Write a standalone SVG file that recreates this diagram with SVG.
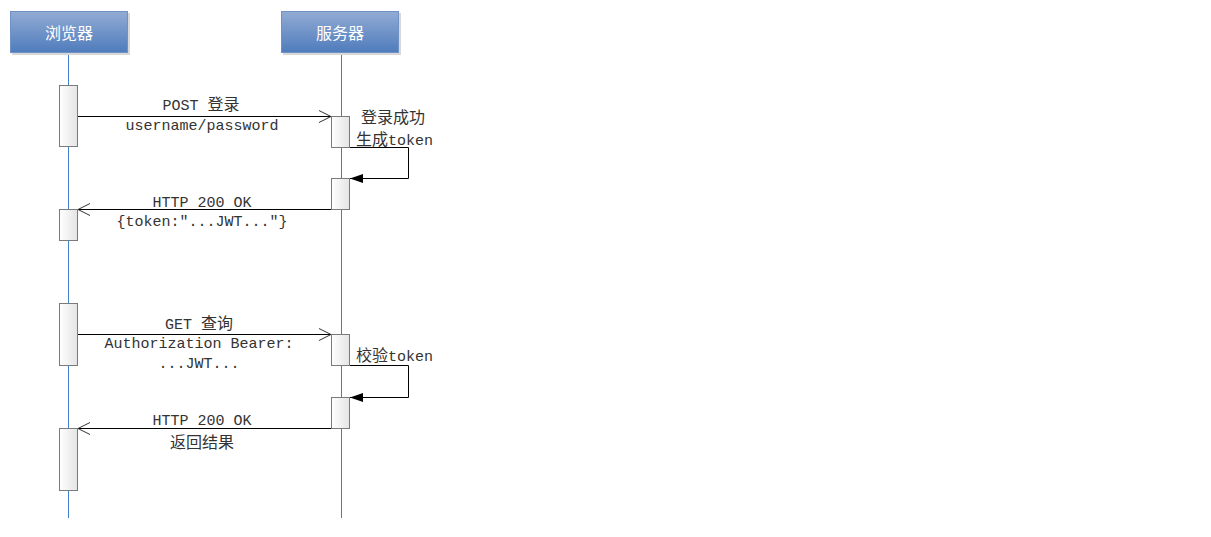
<svg xmlns="http://www.w3.org/2000/svg" width="1211" height="537" viewBox="0 0 1211 537">
<defs>
<linearGradient id="hdr" x1="0" y1="0" x2="0" y2="1">
<stop offset="0" stop-color="#92abd4"/>
<stop offset="1" stop-color="#4f7cbc"/>
</linearGradient>
<linearGradient id="act" x1="0" y1="0" x2="1" y2="0">
<stop offset="0" stop-color="#ffffff"/>
<stop offset="1" stop-color="#e4e4e4"/>
</linearGradient>
<marker id="open" markerWidth="14" markerHeight="14" refX="13" refY="7" orient="auto" markerUnits="userSpaceOnUse">
<path d="M1,1 L13,7 L1,13" fill="none" stroke="#333" stroke-width="1"/>
</marker>
<marker id="fill" markerWidth="14" markerHeight="10" refX="13" refY="5" orient="auto" markerUnits="userSpaceOnUse">
<path d="M0,0.5 L13,5 L0,9.5 Z" fill="#000"/>
</marker>
</defs>
<style>
.hdr{fill:url(#hdr);stroke:#6f91c4;stroke-width:1}
.shadow{fill:#d8d8d8}
.hdrt{font-family:"Noto Sans CJK SC","Noto Sans",sans-serif;font-size:16px;fill:#fff;text-anchor:middle;dominant-baseline:central}
.life{stroke:#3f7fcc;stroke-width:1;fill:none}
.act{fill:url(#act);stroke:#7a7a7a;stroke-width:1}
.msg{stroke:#000;stroke-width:1;fill:none}
.lbl{font-family:"Liberation Mono","Noto Sans CJK SC",monospace;font-size:15px;fill:#333;text-anchor:middle}
.lbls{font-family:"Liberation Mono","Noto Sans CJK SC",monospace;font-size:15px;fill:#333;text-anchor:start}
.cjk{font-family:"Noto Sans CJK SC",sans-serif;font-size:16px}
</style>
<rect width="1211" height="537" fill="#fff"/>
<g id="lifelines">
<line class="life" x1="68.5" y1="53" x2="68.5" y2="518"/>
<line class="life" x1="341.5" y1="53" x2="341.5" y2="518"/>
</g>
<g id="browser">
<rect class="shadow" x="12" y="13" width="118" height="42"/>
<rect class="hdr" x="10.5" y="11.5" width="117" height="41"/>
<text class="hdrt" x="69" y="32">浏览器</text>
</g>
<g id="server">
<rect class="shadow" x="283" y="13" width="118" height="42"/>
<rect class="hdr" x="281.5" y="11.5" width="117" height="41"/>
<text class="hdrt" x="340" y="32">服务器</text>
</g>
<g id="activations">
<rect class="act" x="59.5" y="85.5" width="18" height="61"/>
<rect class="act" x="331.5" y="116.5" width="18" height="31"/>
<rect class="act" x="331.5" y="178.5" width="18" height="31"/>
<rect class="act" x="59.5" y="209.5" width="18" height="31"/>
<rect class="act" x="59.5" y="303.5" width="18" height="62"/>
<rect class="act" x="331.5" y="334.5" width="18" height="31"/>
<rect class="act" x="331.5" y="397.5" width="18" height="31"/>
<rect class="act" x="59.5" y="428.5" width="18" height="62"/>
</g>
<g id="connectors">
<line class="msg" x1="78" y1="116.5" x2="331" y2="116.5" marker-end="url(#open)"/>
<polyline class="msg" points="350,147.5 408.5,147.5 408.5,178.5 350,178.5" marker-end="url(#fill)"/>
<line class="msg" x1="331" y1="209.5" x2="78" y2="209.5" marker-end="url(#open)"/>
<line class="msg" x1="78" y1="334.5" x2="331" y2="334.5" marker-end="url(#open)"/>
<polyline class="msg" points="350,365.5 408.5,365.5 408.5,397.5 350,397.5" marker-end="url(#fill)"/>
<line class="msg" x1="331" y1="428.5" x2="78" y2="428.5" marker-end="url(#open)"/>
</g>
<g id="labels">
<text class="lbl" x="201" y="110">POST <tspan class="cjk">登录</tspan></text>
<text class="lbl" x="202" y="130">username/password</text>
<text class="lbls" x="361" y="123"><tspan class="cjk">登录成功</tspan></text>
<text class="lbls" x="356" y="145"><tspan class="cjk">生成</tspan>token</text>
<text class="lbl" x="202" y="207">HTTP 200 OK</text>
<text class="lbl" x="202" y="226">{token:"...JWT..."}</text>
<text class="lbl" x="199" y="329">GET <tspan class="cjk">查询</tspan></text>
<text class="lbl" x="199" y="348">Authorization Bearer:</text>
<text class="lbl" x="199" y="368">...JWT...</text>
<text class="lbls" x="356" y="361"><tspan class="cjk">校验</tspan>token</text>
<text class="lbl" x="202" y="425">HTTP 200 OK</text>
<text class="lbl" x="202" y="448"><tspan class="cjk">返回结果</tspan></text>
</g>
</svg>
